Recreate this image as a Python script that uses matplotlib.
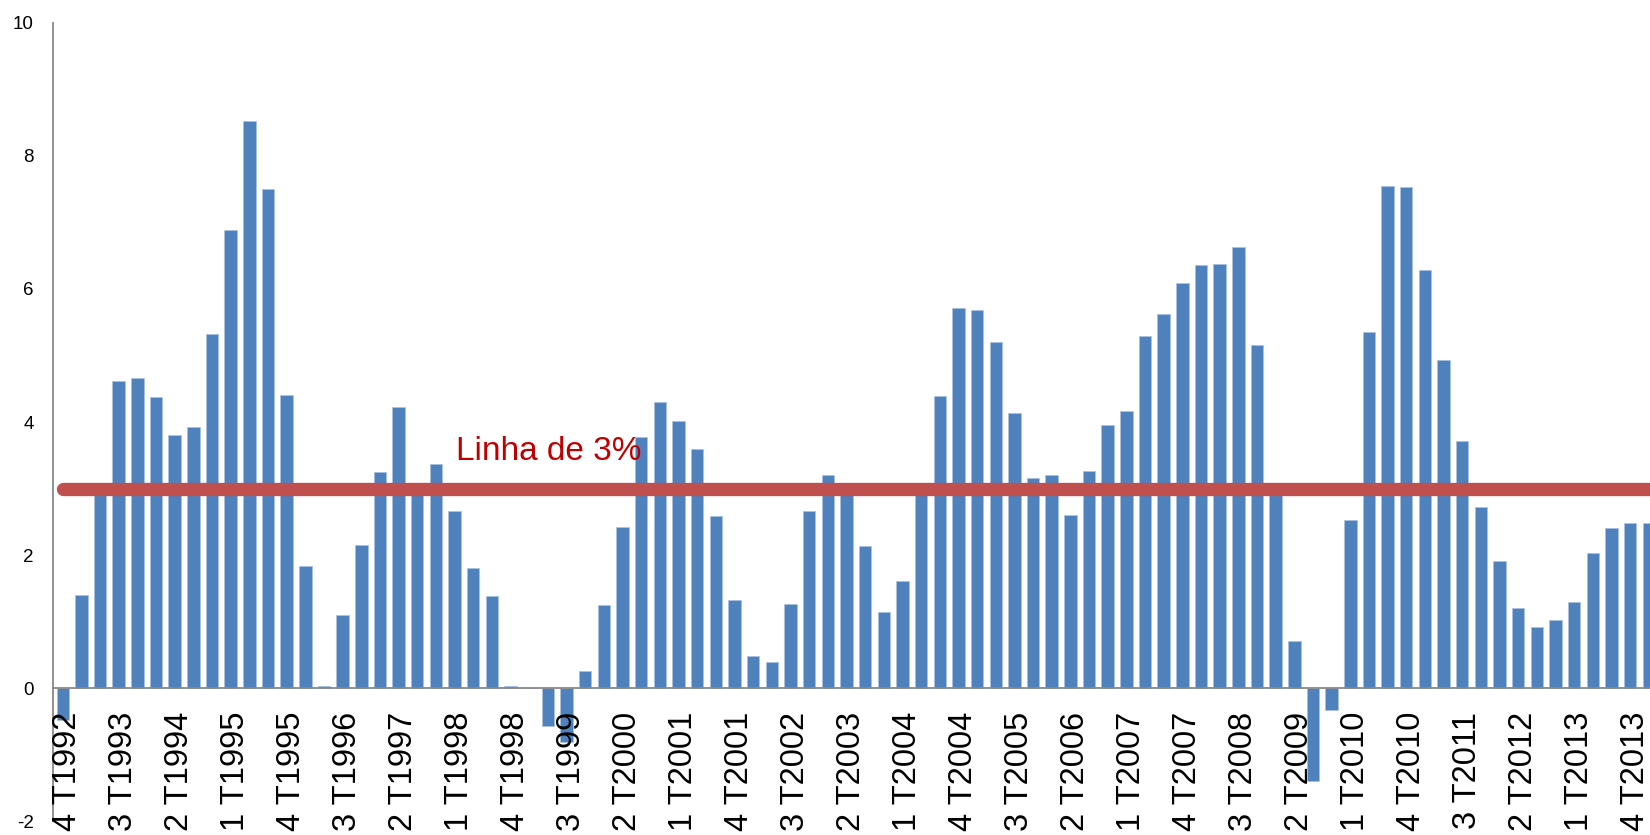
import matplotlib
matplotlib.use("Agg")
import matplotlib.pyplot as plt
import matplotlib.transforms as mtransforms
import numpy as np

plt.rcParams['font.family'] = ['Liberation Sans', 'DejaVu Sans']

# Quarters 4T1992 .. 1T2014
quarters = []
q, y = 4, 1992
for _ in range(86):
    quarters.append(f"{q} T{y}")
    q += 1
    if q > 4:
        q, y = 1, y + 1

values = [
    -0.47,                      # 4T1992
    1.40, 2.98, 4.62, 4.66,     # 1993
    4.37, 3.80, 3.93, 5.33,     # 1994
    6.89, 8.52, 7.50, 4.41,     # 1995
    1.84, 0.04, 1.10, 2.15,     # 1996
    3.25, 4.23, 2.98, 3.37,     # 1997
    2.67, 1.81, 1.38, 0.03,     # 1998
    0.00, -0.56, -0.80, 0.26,   # 1999
    1.25, 2.42, 3.77, 4.30,     # 2000
    4.01, 3.60, 2.59, 1.32,     # 2001
    0.49, 0.39, 1.26, 2.66,     # 2002
    3.20, 2.98, 2.14, 1.15,     # 2003
    1.61, 2.98, 4.39, 5.72,     # 2004
    5.69, 5.21, 4.14, 3.16,     # 2005
    3.21, 2.60, 3.27, 3.95,     # 2006
    4.16, 5.30, 5.62, 6.09,     # 2007
    6.36, 6.37, 6.63, 5.16,     # 2008
    2.98, 0.71, -1.40, -0.32,   # 2009
    2.53, 5.35, 7.55, 7.53,     # 2010
    6.28, 4.93, 3.72, 2.73,     # 2011
    1.91, 1.20, 0.92, 1.03,     # 2012
    1.30, 2.03, 2.41, 2.49,     # 2013
    2.49,                       # 2014
]

threshold = [3.0] * len(quarters)
line_label = "Linha de 3%"
y_ticks = [-2, 0, 2, 4, 6, 8, 10]

fig = plt.figure(figsize=(16.5, 8.35), dpi=100)
ax = fig.add_axes([0.03236, 0.0163, 0.9726, 0.9565])
ax.set_axisbelow(False)

ax.spines['top'].set_visible(False)
ax.spines['right'].set_visible(False)
ax.spines['bottom'].set_position(('data', 0))
ax.spines['bottom'].set_color('#888888')
ax.spines['bottom'].set_linewidth(1.3)
ax.spines['left'].set_color('#888888')
ax.spines['left'].set_linewidth(1.3)

x = np.arange(len(quarters))
ax.bar(x, values, width=0.667, color='#4F81BD', edgecolor='#A9C1E0',
       linewidth=0.5, zorder=2)
ax.plot(x, threshold, color='#C0504D', linewidth=9.6,
        solid_capstyle='round', zorder=3)
ax.text(21.07, 3.43, line_label, color='#C00000', fontsize=24,
        ha='left', va='baseline', zorder=4)

ax.set_xlim(-0.5, len(quarters) - 0.5)
ax.set_ylim(-2, 10)

ax.set_xticks(x[::3])
ax.set_xticklabels(quarters[::3], rotation=90, fontsize=23.5, va='top', ha='center')
ax.set_yticks(y_ticks)
ax.set_yticklabels([str(v) for v in y_ticks], fontsize=13.5)
ax.tick_params(axis='x', length=0, pad=17)
ax.tick_params(axis='y', length=0, pad=14)

shift = mtransforms.ScaledTranslation(5 / 100, 0, fig.dpi_scale_trans)
for lbl in ax.get_xticklabels():
    lbl.set_transform(lbl.get_transform() + shift)

fig.savefig('out.png', dpi=100)
